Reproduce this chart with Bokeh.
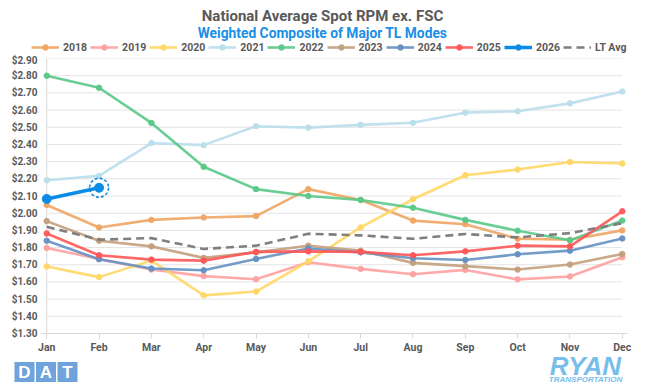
from bokeh.plotting import figure
from bokeh.layouts import column
from bokeh.models import (Range1d, FixedTicker, NumeralTickFormatter, Legend,
                          LegendItem, Plot)
from bokeh.core.properties import value
from bokeh.embed import file_html
from bokeh.resources import INLINE

months = ["Jan", "Feb", "Mar", "Apr", "May", "Jun",
          "Jul", "Aug", "Sep", "Oct", "Nov", "Dec"]
y_ticks = [1.30, 1.40, 1.50, 1.60, 1.70, 1.80, 1.90, 2.00, 2.10,
           2.20, 2.30, 2.40, 2.50, 2.60, 2.70, 2.80, 2.90]

s2018 = [2.048, 1.917, 1.961, 1.975, 1.983, 2.140, 2.077, 1.957, 1.936, 1.851, 1.846, 1.900]
s2019 = [1.798, 1.734, 1.672, 1.634, 1.616, 1.715, 1.676, 1.645, 1.670, 1.615, 1.632, 1.744]
s2020 = [1.690, 1.628, 1.724, 1.522, 1.544, 1.720, 1.917, 2.081, 2.221, 2.254, 2.298, 2.289]
s2021 = [2.192, 2.217, 2.408, 2.396, 2.506, 2.498, 2.514, 2.526, 2.585, 2.593, 2.639, 2.708]
s2022 = [2.800, 2.730, 2.525, 2.270, 2.140, 2.100, 2.077, 2.032, 1.961, 1.898, 1.842, 1.957]
s2023 = [1.954, 1.840, 1.807, 1.740, 1.772, 1.811, 1.782, 1.711, 1.692, 1.672, 1.701, 1.763]
s2024 = [1.840, 1.732, 1.678, 1.668, 1.734, 1.795, 1.772, 1.738, 1.728, 1.761, 1.782, 1.853]
s2025 = [1.882, 1.755, 1.730, 1.724, 1.775, 1.778, 1.775, 1.755, 1.778, 1.811, 1.807, 2.011]
s2026 = [2.083, 2.148]
lt_avg = [1.921, 1.846, 1.855, 1.792, 1.811, 1.880, 1.871, 1.851, 1.879, 1.859, 1.884, 1.942]

series = [
    ("2018", s2018, "#F0A564"),
    ("2019", s2019, "#FFA1A1"),
    ("2020", s2020, "#FFD764"),
    ("2021", s2021, "#B9DEEB"),
    ("2022", s2022, "#5AC887"),
    ("2023", s2023, "#C3A07D"),
    ("2024", s2024, "#6491C3"),
    ("2025", s2025, "#FF5757"),
]
c2026 = "#0A8CE6"
lt_col = "#7F7F7F"
grey_txt = "#595959"
FONT = "Roboto"

W = 634
TOP_H = 54          # 0 .. 54
MAIN_H = 302        # 54 .. 356
STRIP_H = 26        # 356 .. 382
BL, BR = 41, 7      # main plot side borders

HAS_FA = "frame_align" in Plot.properties()


def strip(height):
    if HAS_FA:
        xr = Range1d(0, W)
    else:
        xr = Range1d(BL, W - BR)
    f = figure(width=W, height=height, output_backend="svg",
               toolbar_location=None, x_range=xr,
               y_range=Range1d(height, 0), min_border=0, title=None,
               x_axis_location=None, y_axis_location=None)
    if HAS_FA:
        f.frame_align = False
    f.grid.visible = False
    f.outline_line_color = None
    return f


# ---------------- top strip: title, subtitle, legend ----------------
t = strip(TOP_H)
t.text(x=[322], y=[15.5], text=["National Average Spot RPM ex. FSC"],
       text_align="center", text_baseline="middle", text_font=value(FONT),
       text_font_style="bold", text_font_size="15px", text_color=grey_txt)
t.text(x=[322], y=[32], text=["Weighted Composite of Major TL Modes"],
       text_align="center", text_baseline="middle", text_font=value(FONT),
       text_font_style="bold", text_font_size="13.8px", text_color="#1A8FE6")

OFF = [-1000, -999]
items = []
for name, vals, col in series:
    lr = t.line(OFF, OFF, line_color=col, line_width=2.6, line_alpha=0.9)
    sr = t.scatter(OFF[:1], OFF[:1], size=5.5, fill_color=col, line_color=col,
                   alpha=0.95)
    items.append(LegendItem(label=name, renderers=[lr, sr]))
lr = t.line(OFF, OFF, line_color=c2026, line_width=3.5)
sr = t.scatter(OFF[:1], OFF[:1], size=8, fill_color=c2026, line_color=c2026)
items.append(LegendItem(label="2026", renderers=[lr, sr]))
lr = t.line(OFF, OFF, line_color=lt_col, line_width=2.6, line_dash="8 5")
items.append(LegendItem(label="LT Avg", renderers=[lr]))

leg_x = 31 if HAS_FA else 31 - BL
legend = Legend(items=items, orientation="horizontal", location=(leg_x, 0),
                glyph_width=28, glyph_height=14, label_standoff=4, spacing=3,
                padding=0, margin=0, border_line_color=None,
                background_fill_alpha=0,
                label_text_font=FONT, label_text_font_style="bold",
                label_text_font_size="10.5px", label_text_color=grey_txt)
t.add_layout(legend)

# ---------------- main chart ----------------
p = figure(width=W, height=MAIN_H, output_backend="svg",
           toolbar_location=None, title=None,
           x_range=Range1d(-0.1, 11.1), y_range=Range1d(1.30, 2.90),
           min_border_left=BL, min_border_right=BR, min_border_top=4,
           min_border_bottom=22)
if HAS_FA:
    p.frame_align = False
p.outline_line_color = None
p.xgrid.visible = False
p.ygrid.visible = False

xs = list(range(len(months)))

p.segment(x0=[0] * len(y_ticks), x1=[len(months) - 1] * len(y_ticks),
          y0=y_ticks, y1=y_ticks, line_color="#E4E4E4", line_width=1)
p.segment(x0=[0], x1=[0], y0=[y_ticks[0]], y1=[y_ticks[-1]],
          line_color="#D9D9D9", line_width=1)

for name, vals, col in series:
    p.line(xs, vals, line_color=col, line_width=2.6, line_alpha=0.9)
    p.scatter(xs, vals, size=5.5, fill_color=col, line_color=col, alpha=0.95)

p.line(xs, lt_avg, line_color=lt_col, line_width=2.6, line_dash="8 5")

x26 = xs[:len(s2026)]
p.line(x26, s2026, line_color=c2026, line_width=3.5)
p.scatter(x26, s2026, size=9, fill_color=c2026, line_color=c2026)
p.scatter([x26[-1]], [s2026[-1]], size=19, fill_color=None, line_color=c2026,
          line_width=1.6, line_dash="3 2")

p.yaxis.ticker = FixedTicker(ticks=y_ticks)
p.yaxis.formatter = NumeralTickFormatter(format="$0.00")
p.yaxis.axis_line_color = None
p.yaxis.major_tick_line_color = None
p.yaxis.major_tick_out = 0
p.yaxis.major_tick_in = 0
p.yaxis.minor_tick_line_color = None
p.yaxis.minor_tick_out = 0
p.yaxis.major_label_standoff = 4
p.yaxis.major_label_text_font = FONT
p.yaxis.major_label_text_font_style = "bold"
p.yaxis.major_label_text_font_size = "10px"
p.yaxis.major_label_text_color = grey_txt

p.xaxis.ticker = FixedTicker(ticks=xs)
p.xaxis.major_label_overrides = {i: m for i, m in enumerate(months)}
p.xaxis.axis_line_color = "#D9D9D9"
p.xaxis.major_tick_line_color = "#D9D9D9"
p.xaxis.major_tick_out = 5
p.xaxis.major_tick_in = 0
p.xaxis.minor_tick_line_color = None
p.xaxis.minor_tick_out = 0
p.xaxis.major_label_standoff = 2
p.xaxis.major_label_text_font = FONT
p.xaxis.major_label_text_font_style = "bold"
p.xaxis.major_label_text_font_size = "10.5px"
p.xaxis.major_label_text_color = grey_txt

# ---------------- bottom strip: logos ----------------
STRIP_TOP = TOP_H + MAIN_H
s = strip(STRIP_H)


def gy(Y):
    return Y - STRIP_TOP


dat_col = "#6FA3DB"
dat_letters = ["D", "A", "T"]
lefts = [14 + i * 21.5 for i in range(3)]
s.quad(left=lefts, right=[l + 20 for l in lefts], top=[gy(361.5)] * 3,
       bottom=[gy(381.5)] * 3, fill_color=dat_col, line_color=None)
s.text(x=[l + 10 for l in lefts], y=[gy(372)] * 3, text=dat_letters,
       text_align="center", text_baseline="middle",
       text_font=value("Liberation Sans"), text_font_style="bold",
       text_font_size="17px", text_color="white")

ryan_col = "#78BEEB"
s.text(x=[585], y=[gy(365.5)], text=["RYAN"], text_align="center",
       text_baseline="middle", text_font=value("Liberation Sans"),
       text_font_style="bold italic", text_font_size="26px", text_color=ryan_col)
s.text(x=[585], y=[gy(379.2)], text=["TRANSPORTATION"], text_align="center",
       text_baseline="middle", text_font=value("Liberation Sans"),
       text_font_style="bold italic", text_font_size="8px", text_color=ryan_col)

layout = column(t, p, s, spacing=0)
open("out.html", "w").write(file_html(layout, INLINE))
